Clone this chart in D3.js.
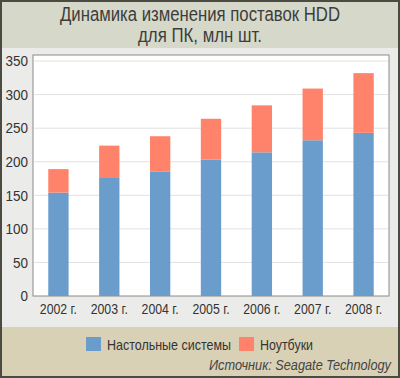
<!DOCTYPE html>
<html>
<head>
<meta charset="utf-8">
<script src="https://cdn.jsdelivr.net/npm/d3@7"></script>
<style>
  body { margin: 0; background: #fff; }
  text { font-family: "Liberation Sans", Arial, sans-serif; }
</style>
</head>
<body>
<div id="grafica"></div>
<script>
// datos
const years = ["2002 г.", "2003 г.", "2004 г.", "2005 г.", "2006 г.", "2007 г.", "2008 г."]
const desktop = [154, 177, 185, 203, 214, 232, 243]
const notebooks = [35, 47, 53, 61, 70, 77, 89]
const yTicks = [0, 50, 100, 150, 200, 250, 300, 350]
const seriesNames = ["Настольные системы", "Ноутбуки"]
const colors = ["#6b9dcc", "#ff836a"]

const svgWidth = 400
const svgHeight = 378
const margin = { top: 55, right: 11, bottom: 82, left: 33 }
const chartWidth = svgWidth - margin.left - margin.right
const chartHeight = svgHeight - margin.top - margin.bottom

const data = years.map((y, i) => ({ year: y, desktop: desktop[i], notebooks: notebooks[i] }))
const stack = d3.stack().keys(["desktop", "notebooks"])(data)

const scaleX = d3.scaleBand()
    .domain(years)
    .range([0, chartWidth])
    .paddingInner(0.6)
    .paddingOuter(0.3)

const scaleY = d3.scaleLinear()
    .domain([0, 359])
    .range([chartHeight, 0])

// letra estrecha: comprimir el texto horizontalmente
function narrow(sel, k) {
    sel.each(function () {
        const w = this.getComputedTextLength()
        d3.select(this).attr('textLength', w * k).attr('lengthAdjust', 'spacingAndGlyphs')
    })
}

const svg = d3.select('#grafica')
    .append('svg')
    .attr('width', svgWidth)
    .attr('height', svgHeight)

// fondos
svg.append('rect').attr('x', 0).attr('y', 0).attr('width', svgWidth).attr('height', svgHeight).style('fill', '#4b4b42')
svg.append('rect').attr('x', 2).attr('y', 2).attr('width', svgWidth - 4).attr('height', 46).style('fill', '#d6d9c9')
svg.append('rect').attr('x', 2).attr('y', 48).attr('width', svgWidth - 4).attr('height', 279).style('fill', '#ebebe9')
svg.append('rect').attr('x', 2).attr('y', 327).attr('width', svgWidth - 4).attr('height', 49).style('fill', '#d9d1b6')

// titulo
const t1 = svg.append('text')
    .attr('x', svgWidth / 2).attr('y', 21)
    .attr('text-anchor', 'middle')
    .style('font-size', '19.5px').style('fill', '#3d3d3d')
    .text('Динамика изменения поставок HDD')
const t2 = svg.append('text')
    .attr('x', svgWidth / 2).attr('y', 42)
    .attr('text-anchor', 'middle')
    .style('font-size', '19.5px').style('fill', '#3d3d3d')
    .text('для ПК, млн шт.')
t1.attr('textLength', 280).attr('lengthAdjust', 'spacingAndGlyphs')
t2.attr('textLength', 124).attr('lengthAdjust', 'spacingAndGlyphs')

const g = svg.append('g')
    .attr('transform', `translate(${margin.left},${margin.top})`)

g.append('rect')
    .attr('width', chartWidth)
    .attr('height', chartHeight)
    .style('fill', '#fff')
    .style('stroke', '#8a8a8a')
    .style('stroke-width', 1)

// grid
g.selectAll('.grid')
    .data(yTicks.filter(d => d > 0))
    .enter()
    .append('line')
    .attr('x1', 1)
    .attr('x2', chartWidth - 1)
    .attr('y1', d => scaleY(d))
    .attr('y2', d => scaleY(d))
    .style('stroke', '#e2e2e2')

// barras
g.selectAll('.serie')
    .data(stack)
    .enter()
    .append('g')
    .style('fill', (d, i) => colors[i])
    .selectAll('rect')
    .data(d => d)
    .enter()
    .append('rect')
    .attr('x', d => scaleX(d.data.year))
    .attr('width', scaleX.bandwidth())
    .attr('y', d => scaleY(d[1]))
    .attr('height', d => scaleY(d[0]) - scaleY(d[1]))

// ejes
const axisY = d3.axisLeft(scaleY).tickValues(yTicks).tickSize(0).tickPadding(5)
const axisX = d3.axisBottom(scaleX).tickSize(0).tickPadding(7)

const gy = g.append('g').call(axisY)
gy.select('.domain').remove()
gy.selectAll('text').style('font-size', '15px').style('fill', '#333').style('font-family', '"Liberation Sans", Arial, sans-serif')
narrow(gy.selectAll('text'), 0.9)

const gx = g.append('g').attr('transform', `translate(0,${chartHeight})`).call(axisX)
gx.select('.domain').remove()
gx.selectAll('text').style('font-size', '15px').style('fill', '#333').style('font-family', '"Liberation Sans", Arial, sans-serif')
narrow(gx.selectAll('text'), 0.82)

// leyenda
const legendX = [86, 239]
const legendW = [124, 53]
const legend = svg.selectAll('.legend')
    .data(seriesNames)
    .enter()
    .append('g')
    .attr('transform', (d, i) => `translate(${legendX[i]},337)`)
legend.append('rect')
    .attr('width', 15)
    .attr('height', 14)
    .style('fill', (d, i) => colors[i])
legend.append('text')
    .attr('x', 21)
    .attr('y', 12.5)
    .style('font-size', '14.5px')
    .style('fill', '#333')
    .attr('textLength', (d, i) => legendW[i])
    .attr('lengthAdjust', 'spacingAndGlyphs')
    .text(d => d)

svg.append('text')
    .attr('x', 391)
    .attr('y', 370)
    .attr('text-anchor', 'end')
    .style('font-size', '14.5px')
    .style('font-style', 'italic')
    .style('fill', '#444')
    .attr('textLength', 182)
    .attr('lengthAdjust', 'spacingAndGlyphs')
    .text('Источник: Seagate Technology')
</script>
</body>
</html>
